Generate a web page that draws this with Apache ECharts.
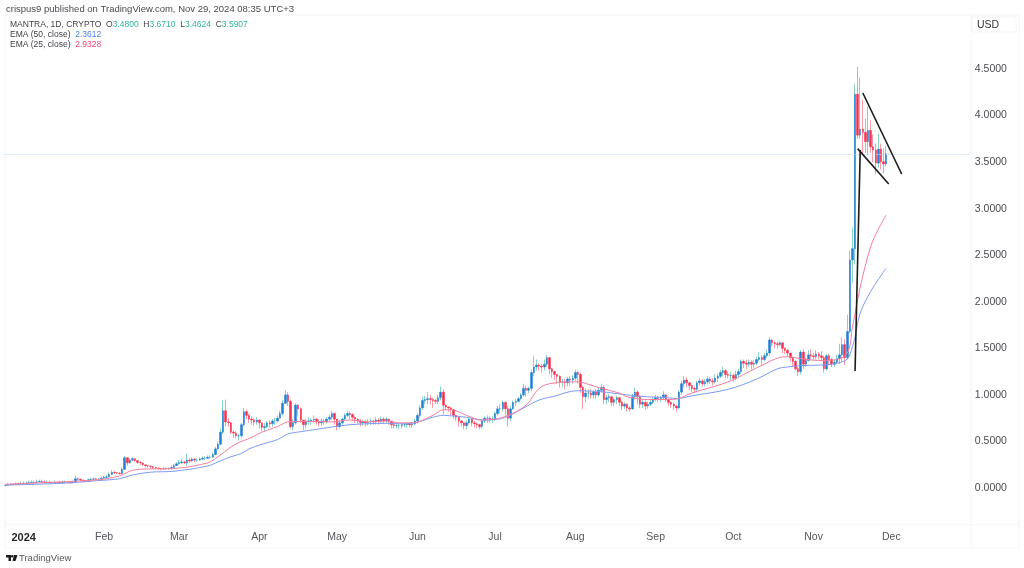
<!DOCTYPE html>
<html><head><meta charset="utf-8">
<style>html,body{margin:0;padding:0;background:#fff}#c{width:1024px;height:568px}</style>
<script src="https://cdn.jsdelivr.net/npm/echarts@6/dist/echarts.min.js"></script>
</head><body><div id="c"></div>
<script>
// Daily closes, Dec 25 2023 -> Nov 29 2024
const closeDec=[.030,.035,.040,.038,.045,.042,.048];
const closeJan=[.050,.052,.060,.062,.058,.065,.070,.066,.060,.062,.058,.055,.060,.058,.056,.060,.062,.058,.056,.060,.100,.095,.085,.075,.072,.090,.095,.098,.095,.095,.105];
const closeFeb=[.115,.12,.145,.17,.165,.16,.155,.20,.325,.27,.30,.315,.295,.275,.27,.25,.24,.235,.23,.22,.215,.21,.205,.205,.21,.205,.22,.24,.26];
const closeMar=[.27,.28,.27,.30,.29,.31,.30,.30,.31,.32,.32,.33,.33,.36,.42,.47,.60,.83,.71,.70,.60,.59,.56,.56,.68,.82,.78,.74,.73,.71,.73];
const closeApr=[.70,.65,.66,.70,.69,.72,.72,.75,.80,.91,1.00,.93,.66,.70,.89,.85,.73,.68,.72,.72,.73,.74,.71,.70,.72,.71,.74,.76,.80,.74];
const closeMay=[.66,.70,.74,.78,.80,.79,.76,.74,.72,.70,.71,.70,.71,.72,.71,.73,.72,.74,.72,.74,.72,.68,.67,.67,.67,.68,.68,.69,.68,.69,.72];
const closeJun=[.78,.86,.94,.95,.96,.95,.94,.93,.97,1.03,.89,.87,.86,.84,.78,.76,.72,.70,.67,.70,.74,.70,.69,.68,.66,.72,.75,.75,.74,.74];
const closeJul=[.80,.85,.85,.92,.85,.75,.85,.92,.93,.96,1.00,1.07,1.05,1.07,1.24,1.30,1.32,1.31,1.30,1.33,1.40,1.28,1.25,1.22,1.20,1.14,1.14,1.13,1.17,1.16,1.18];
const closeAug=[1.24,1.22,1.08,.98,1.02,1.02,1.00,1.03,1.00,1.05,1.08,.95,.97,.98,.92,.95,.97,.92,.88,.90,.86,.85,.98,1.03,.98,.90,.92,.88,.90,.92,.95];
const closeSep=[.97,.96,.97,1.00,.95,.92,.90,.88,.86,1.03,1.12,1.16,1.13,1.10,1.07,1.06,1.13,1.15,1.12,1.14,1.17,1.15,1.14,1.18,1.20,1.24,1.26,1.22,1.21,1.21];
const closeOct=[1.18,1.22,1.25,1.36,1.34,1.33,1.35,1.33,1.34,1.38,1.40,1.38,1.42,1.45,1.59,1.56,1.55,1.54,1.56,1.50,1.48,1.45,1.40,1.36,1.28,1.25,1.46,1.33,1.37,1.43,1.42];
const closeNov=[1.41,1.44,1.42,1.40,1.28,1.42,1.38,1.33,1.35,1.39,1.43,1.54,1.40,1.68,2.45,2.57,4.23,3.79,3.855,3.82,3.72,3.84,3.665,3.63,3.49,3.64,3.505,3.48,3.5907];

const highDec=[.04,.05,.05,.05,.06,.06,.07];
const highJan=[.07,.07,.08,.08,.08,.09,.09,.09,.08,.08,.08,.07,.08,.07,.08,.08,.08,.07,.07,.08,.135,.11,.10,.09,.085,.10,.11,.11,.105,.105,.12];
const highFeb=[.13,.14,.17,.19,.18,.17,.17,.22,.345,.33,.32,.33,.31,.29,.285,.265,.25,.245,.24,.23,.225,.22,.215,.22,.22,.22,.24,.26,.28];
const highMar=[.30,.31,.29,.37,.32,.33,.32,.32,.33,.34,.34,.35,.35,.38,.44,.50,.64,.945,.95,.75,.71,.62,.61,.58,.70,.86,.84,.80,.77,.75,.76];
const highApr=[.74,.70,.70,.72,.73,.74,.75,.78,.83,.94,1.05,1.03,.95,.74,.91,.90,.86,.73,.74,.76,.75,.78,.75,.74,.75,.74,.76,.79,.83,.81];
const highMay=[.74,.73,.76,.80,.83,.82,.80,.77,.75,.74,.73,.73,.74,.75,.73,.76,.75,.77,.76,.76,.74,.72,.69,.69,.69,.70,.70,.71,.70,.71,.74];
const highJun=[.80,.89,.98,.99,1.03,1.0,.97,.96,1.0,1.09,1.06,.90,.88,.87,.85,.79,.75,.73,.70,.73,.76,.75,.72,.70,.69,.74,.77,.78,.77,.77];
const highJul=[.82,.88,.90,.94,.93,.88,.88,.94,.96,.98,1.02,1.12,1.10,1.09,1.27,1.42,1.38,1.34,1.33,1.38,1.43,1.41,1.29,1.26,1.22,1.21,1.17,1.17,1.19,1.20,1.21];
const highAug=[1.27,1.26,1.24,1.10,1.07,1.06,1.06,1.05,1.06,1.07,1.12,1.10,1.00,1.01,.99,.97,.99,.98,.94,.92,.91,.88,1.01,1.08,1.05,.99,.95,.94,.93,.95,.97];
const highSep=[1.00,.99,.99,1.04,1.01,.96,.93,.92,.89,1.05,1.15,1.20,1.19,1.14,1.11,1.09,1.15,1.18,1.17,1.17,1.20,1.19,1.18,1.22,1.23,1.27,1.30,1.28,1.25,1.25];
const highOct=[1.23,1.26,1.28,1.38,1.38,1.38,1.38,1.37,1.37,1.41,1.46,1.43,1.45,1.49,1.62,1.60,1.58,1.57,1.58,1.56,1.51,1.49,1.45,1.41,1.37,1.30,1.48,1.49,1.40,1.48,1.49];
const highNov=[1.45,1.48,1.46,1.47,1.42,1.44,1.44,1.40,1.38,1.43,1.55,1.625,1.60,1.86,2.55,2.80,4.34,4.525,4.41,4.17,3.97,4.10,3.95,3.80,3.70,3.81,3.70,3.65,3.671];

const lowDec=[.02,.025,.03,.03,.035,.035,.04];
const lowJan=[.04,.04,.05,.05,.05,.05,.06,.055,.05,.05,.05,.045,.05,.05,.045,.05,.05,.05,.045,.05,.055,.08,.07,.065,.06,.065,.08,.085,.085,.085,.09];
const lowFeb=[.10,.10,.125,.14,.15,.15,.145,.15,.20,.24,.26,.29,.28,.26,.25,.235,.225,.22,.215,.205,.20,.195,.19,.195,.195,.195,.20,.22,.24];
const lowMar=[.25,.26,.255,.24,.27,.28,.28,.285,.29,.30,.30,.31,.31,.32,.35,.41,.46,.58,.66,.66,.58,.54,.53,.51,.54,.66,.74,.70,.68,.67,.68];
const lowApr=[.64,.61,.60,.64,.65,.66,.68,.70,.75,.78,.90,.88,.64,.62,.68,.78,.70,.62,.64,.68,.68,.70,.68,.66,.67,.68,.69,.72,.73,.68];
const lowMay=[.62,.64,.68,.72,.76,.74,.72,.70,.69,.66,.67,.66,.67,.68,.68,.68,.68,.69,.69,.70,.68,.64,.64,.64,.63,.64,.65,.65,.65,.64,.67];
const lowJun=[.69,.75,.84,.90,.90,.90,.86,.90,.90,.94,.79,.84,.82,.78,.74,.72,.66,.66,.63,.63,.68,.66,.65,.64,.63,.64,.70,.70,.70,.70];
const lowJul=[.72,.78,.80,.82,.78,.66,.72,.84,.88,.92,.94,.98,.98,1.02,1.04,1.20,1.26,1.26,1.24,1.26,1.30,1.22,1.18,1.16,1.12,1.08,1.08,1.06,1.09,1.10,1.12];
const lowAug=[1.15,1.12,1.02,.85,.92,.96,.96,.96,.96,.98,1.02,.90,.90,.92,.88,.88,.90,.88,.84,.85,.82,.82,.84,.95,.90,.86,.86,.84,.85,.88,.90];
const lowSep=[.93,.92,.92,.95,.92,.88,.86,.84,.82,.85,1.00,1.08,1.08,1.05,1.03,1.02,1.04,1.10,1.09,1.09,1.11,1.12,1.10,1.12,1.14,1.18,1.20,1.18,1.18,1.16];
const lowOct=[1.14,1.16,1.19,1.22,1.29,1.28,1.30,1.27,1.29,1.32,1.36,1.32,1.36,1.40,1.42,1.52,1.50,1.50,1.52,1.45,1.44,1.41,1.36,1.30,1.26,1.20,1.22,1.28,1.30,1.36,1.38];
const lowNov=[1.37,1.38,1.38,1.36,1.24,1.26,1.32,1.30,1.30,1.33,1.33,1.36,1.32,1.38,1.66,2.2,2.40,3.75,3.75,3.58,3.6,3.58,3.6,3.5,3.37,3.44,3.42,3.38,3.4624];

const firstOpen=.028;
// EMA readings at selected days (day index from Dec 25 2023)
const emaDays=[0,21,36,44,49,56,65,78,82,87,91,94,99,105,109,114,120,126,133,140,147,152,157,165,169,172,178,184,189,194,201,206,211,221,226,230,237,240,248,256,259,265,279,290,298,302,307,314,320,325,327,328,330,334,337,340];
const ema50=[.032,.05,.08,.10,.14,.17,.18,.236,.28,.336,.37,.42,.47,.52,.58,.605,.63,.655,.68,.69,.695,.69,.695,.76,.78,.775,.76,.73,.735,.77,.875,.945,.98,1.045,1.04,1.035,1.01,1.0,.98,.97,.96,.99,1.06,1.17,1.28,1.30,1.315,1.32,1.335,1.385,1.52,1.625,1.88,2.11,2.24,2.36];
const ema25=[.04,.065,.09,.13,.19,.205,.21,.27,.336,.44,.50,.53,.60,.66,.71,.715,.715,.71,.73,.71,.72,.70,.70,.78,.84,.84,.78,.73,.74,.78,.89,1.07,1.125,1.14,1.105,1.07,1.02,.98,.95,.95,.955,1.02,1.14,1.29,1.395,1.41,1.39,1.37,1.375,1.45,1.73,1.87,2.16,2.59,2.78,2.93];
// Hand-drawn trendlines: [day index, price]
const poleLine=[[328,1.257],[330,3.63]];
const flagLower=[[329,3.645],[341,3.265]];
const flagUpper=[[331,4.243],[346,3.373]];

const monthStarts=[7,38,67,98,128,159,189,220,251,281,312,342];
const monthLabels=['2024','Feb','Mar','Apr','May','Jun','Jul','Aug','Sep','Oct','Nov','Dec'];
const priceTicks=[0,.5,1,1.5,2,2.5,3,3.5,4,4.5];
const slotCount=373;

const closes=[].concat(closeDec,closeJan,closeFeb,closeMar,closeApr,closeMay,closeJun,closeJul,closeAug,closeSep,closeOct,closeNov);
const highs=[].concat(highDec,highJan,highFeb,highMar,highApr,highMay,highJun,highJul,highAug,highSep,highOct,highNov);
const lows=[].concat(lowDec,lowJan,lowFeb,lowMar,lowApr,lowMay,lowJun,lowJul,lowAug,lowSep,lowOct,lowNov);
if(closes.length!==341||highs.length!==341||lows.length!==341) throw new Error('len '+closes.length+' '+highs.length+' '+lows.length);

const opens=closes.map((c,i)=>i?closes[i-1]:firstOpen);
const wickData=closes.map((c,i)=>[opens[i],c,Math.min(lows[i],opens[i],c),Math.max(highs[i],opens[i],c)]);
const bodyData=closes.map((c,i)=>[opens[i],c,Math.min(opens[i],c),Math.max(opens[i],c)]);
// a doji-free start: categories hold the month labels and blanks
const categories=Array.from({length:slotCount},(_,i)=>{const k=monthStarts.indexOf(i);return k>=0?monthLabels[k]:' '+i;});
const pairs=(xs,ys)=>xs.map((x,i)=>[x,ys[i]]);
const lastClose=closes[closes.length-1];

const FONT='"Liberation Sans",Arial,sans-serif';
const UP='#1f7fd4',DOWN='#f5304e',UPW='#8ed2c6',DOWNW='#fb9aa8',TEAL='#2fb59a',INK='#3f3f46';
const chart=echarts.init(document.getElementById('c'),null,{renderer:'canvas'});
const trend=d=>({type:'line',data:d,symbol:'none',silent:true,z:8,animation:false,lineStyle:{color:'#1c1c1c',width:1.6}});
chart.setOption({
  animation:false,backgroundColor:'#fff',
  tooltip:{show:false},legend:{show:false},
  grid:{left:4.3,top:15,width:966,height:509},
  xAxis:{type:'category',data:categories,boundaryGap:true,
    axisLine:{show:false},axisTick:{show:false},splitLine:{show:false},
    axisLabel:{interval:(i)=>monthStarts.includes(i),margin:8,fontFamily:FONT,fontSize:10.5,color:'#55555c',
      formatter:v=>v==='2024'?'{b|2024}':v,rich:{b:{fontWeight:'bold',fontSize:11,color:'#2a2a2e',fontFamily:FONT}}}},
  yAxis:{type:'value',position:'right',min:-0.3867,max:5.0806,
    axisLine:{show:false},axisTick:{show:false},splitLine:{show:false},
    axisLabel:{customValues:priceTicks,margin:4.5,fontFamily:FONT,fontSize:10.5,color:'#4a4a50',formatter:v=>v.toFixed(4)}},
  series:[
    {type:'candlestick',name:'wick',data:wickData,barWidth:1,z:2,silent:true,clip:false,
     itemStyle:{color:UPW,color0:DOWNW,borderColor:UPW,borderColor0:DOWNW,borderWidth:1},
     markLine:{silent:true,symbol:'none',label:{show:false},animation:false,
       lineStyle:{color:'#c4d9ea',width:1,type:[1,1]},data:[{yAxis:lastClose}]}},
    {type:'candlestick',name:'body',data:bodyData,barWidth:2,z:3,silent:true,clip:false,
     itemStyle:{color:UP,color0:DOWN,borderColor:UP,borderColor0:DOWN,borderWidth:0.5}},
    {type:'line',name:'EMA 50',data:pairs(emaDays,ema50),symbol:'none',smooth:0.35,z:5,silent:true,lineStyle:{color:'#7d9bf5',width:1}},
    {type:'line',name:'EMA 25',data:pairs(emaDays,ema25),symbol:'none',smooth:0.35,z:6,silent:true,lineStyle:{color:'#f77f9d',width:1}},
    trend(poleLine),trend(flagLower),trend(flagUpper)
  ],
  graphic:[
    {type:'rect',silent:true,z:0,shape:{x:5,y:15,width:1014,height:533},style:{fill:'none',stroke:'#f3f3f3',lineWidth:1}},
    {type:'line',silent:true,z:0,shape:{x1:5,y1:524.5,x2:1019,y2:524.5},style:{stroke:'#f6f6f6',lineWidth:1}},
    {type:'line',silent:true,z:0,shape:{x1:971,y1:15,x2:971,y2:548},style:{stroke:'#f6f6f6',lineWidth:1}},
    {type:'rect',silent:true,z:0,shape:{x:972,y:17,width:44,height:15},style:{fill:'none',stroke:'#f3f3f3',lineWidth:1}},
    {type:'text',silent:true,x:977,y:20,style:{text:'USD',font:'10.5px '+FONT,fill:'#333338'}},
    {type:'text',silent:true,x:6,y:4,style:{text:'crispus9 published on TradingView.com, Nov 29, 2024 08:35 UTC+3',font:'9.5px '+FONT,fill:'#4a4a50'}},
    {type:'text',silent:true,x:10,y:20,style:{text:'MANTRA, 1D, CRYPTO  O{t|3.4800}  H{t|3.6710}  L{t|3.4624}  C{t|3.5907}',font:'8.5px '+FONT,fill:INK,rich:{t:{fill:TEAL,font:'8.5px '+FONT}}}},
    {type:'text',silent:true,x:10,y:30,style:{text:'EMA (50, close)  {b|2.3612}',font:'8.5px '+FONT,fill:INK,rich:{b:{fill:'#4f7df5',font:'8.5px '+FONT}}}},
    {type:'text',silent:true,x:10,y:40,style:{text:'EMA (25, close)  {p|2.9328}',font:'8.5px '+FONT,fill:INK,rich:{p:{fill:'#f5457a',font:'8.5px '+FONT}}}},
    // TradingView mark
    {type:'polygon',silent:true,shape:{points:[[6,555],[11,555],[11,561],[8.5,561],[8.5,557.5],[6,557.5]]},style:{fill:'#1c1c1c'}},
    {type:'circle',silent:true,shape:{cx:12.2,cy:556.2,r:1.2},style:{fill:'#1c1c1c'}},
    {type:'polygon',silent:true,shape:{points:[[14,555],[17.5,555],[15.5,561],[12.5,561]]},style:{fill:'#1c1c1c'}},
    {type:'text',silent:true,x:19,y:553,style:{text:'TradingView',font:'9.5px '+FONT,fill:'#55555c'}}
  ]
});
</script></body></html>
